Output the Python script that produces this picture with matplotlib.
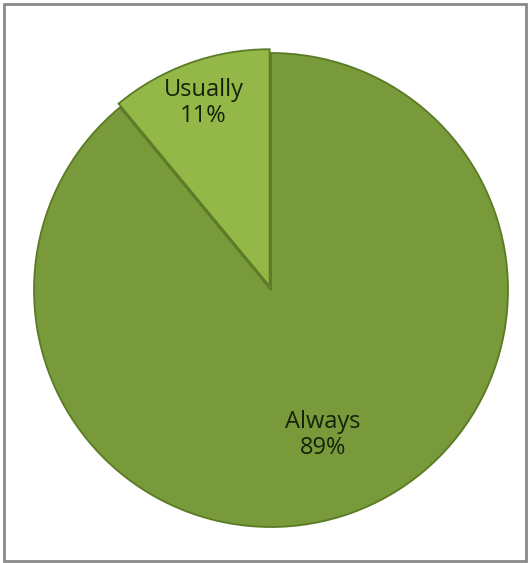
import numpy as np
import matplotlib.pyplot as plt
from matplotlib.patches import Rectangle

labels = ['Usually', 'Always']
shares = [11, 89]
colors = ['#93b848', '#789a3a']
label_dist = [0.84, 0.65]

W, H = 528, 563
fig = plt.figure(figsize=(W / 100, H / 100), dpi=100)
ax = fig.add_axes([0, 0, 1, 1])
ax.set_xlim(0, W)
ax.set_ylim(0, H)

cx, cy, r = 271, H - 290, 237
# explode is in data units here (pixels), so just a small nudge
wedges, _ = ax.pie(shares, colors=colors, startangle=90, counterclock=True,
                   explode=[4, 0], center=(cx, cy), radius=r, frame=True,
                   wedgeprops=dict(edgecolor='#5a7a24', linewidth=1.3))

for w, lab, v, d in zip(wedges, labels, shares, label_dist):
    ang = np.deg2rad((w.theta1 + w.theta2) / 2)
    x = cx + r * d * np.cos(ang)
    y = cy + r * d * np.sin(ang)
    ax.text(x, y, f'{lab}\n{v}%', ha='center', va='center', fontsize=17,
            family='Open Sans', color='#16220a', linespacing=1.12)

ax.set_aspect('equal')
ax.axis('off')

fig.patches.append(Rectangle((4 / W, 2 / H), 522 / W, 557 / H, transform=fig.transFigure,
                             fill=False, edgecolor='#8a8a8a', linewidth=2))

fig.savefig('out.png', dpi=100, facecolor='white')
